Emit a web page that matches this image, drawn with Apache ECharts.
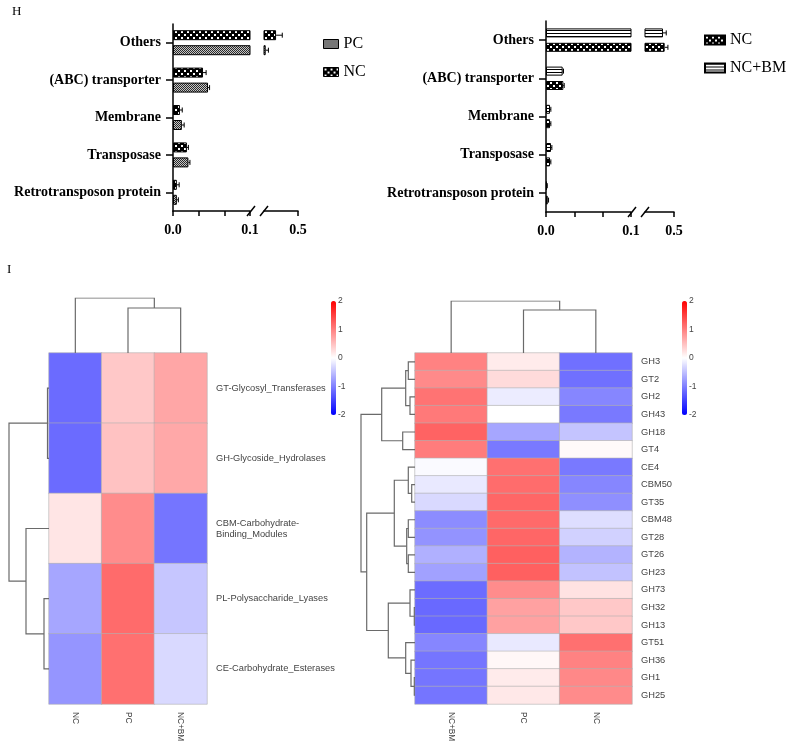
<!DOCTYPE html>
<html><head><meta charset="utf-8">
<script src="https://cdn.jsdelivr.net/npm/echarts@6/dist/echarts.min.js"></script>
<style>html,body{margin:0;padding:0;background:#fff}#c{width:789px;height:744px}</style>
</head><body><div id="c"></div>
<script>
// ================= DATA =================
const barCats = ['Others', '(ABC) transporter', 'Membrane', 'Transposase', 'Retrotransposon protein'];
// panel H left
const leftNC     = [0.242, 0.039, 0.009, 0.018, 0.005];
const leftNCErr  = [0.073, 0.004, 0.003, 0.002, 0.003];
const leftPC     = [0.120, 0.0455, 0.0115, 0.020, 0.005];
const leftPCErr  = [0.032, 0.002, 0.003, 0.002, 0.002];
// panel H right
const rightNCBM    = [0.348, 0.0196, 0.0047, 0.0059, 0.001];
const rightNCBMErr = [0.045, 0.001, 0.001, 0.001, 0.0005];
const rightNC      = [0.371, 0.0204, 0.0047, 0.0047, 0.002];
const rightNCErr   = [0.045, 0.001, 0.001, 0.001, 0.001];
// broken axis segments and ticks
const segLow = [0, 0.1];
const segHigh = [0.1, 0.5];
const lowTicks = [0, 0.1 / 3, 0.2 / 3, 0.1];
const lowLabels = [0, 0.1];
const highTicks = [0.5];
const highLabels = [0.5];

// panel I left heatmap
const hmLCols = ['NC', 'PC', 'NC+BM'];
const hmLRows = ['GT-Glycosyl_Transferases', 'GH-Glycoside_Hydrolases', 'CBM-Carbohydrate-\nBinding_Modules', 'PL-Polysaccharide_Lyases', 'CE-Carbohydrate_Esterases'];
const hmLVals = [
  [-1.16, 0.43, 0.70],
  [-1.16, 0.48, 0.68],
  [0.20, 0.90, -1.08],
  [-0.70, 1.16, -0.45],
  [-0.83, 1.12, -0.30]
];
// merges: [childA, childB, height]; ids >= n are earlier merges
const hmLRowTree = [[0, 1, 1.5], [3, 4, 5], [2, 6, 23], [5, 7, 40]];
const hmLColTree = [[1, 2, 45], [0, 3, 55]];

// panel I right heatmap
const hmRCols = ['NC+BM', 'PC', 'NC'];
const hmRRows = ['GH3', 'GT2', 'GH2', 'GH43', 'GH18', 'GT4', 'CE4', 'CBM50', 'GT35', 'CBM48', 'GT28', 'GT26', 'GH23', 'GH73', 'GH32', 'GH13', 'GT51', 'GH36', 'GH1', 'GH25'];
const hmRVals = [
  [0.98, 0.16, -1.12],
  [0.92, 0.28, -1.12],
  [1.10, -0.15, -0.95],
  [1.05, 0.00, -1.05],
  [1.22, -0.70, -0.46],
  [1.03, -1.05, 0.04],
  [-0.04, 1.12, -1.05],
  [-0.17, 1.15, -0.95],
  [-0.30, 1.20, -0.88],
  [-0.90, 1.17, -0.26],
  [-0.85, 1.20, -0.36],
  [-0.62, 1.25, -0.60],
  [-0.74, 1.25, -0.48],
  [-1.15, 0.90, 0.23],
  [-1.18, 0.74, 0.43],
  [-1.18, 0.74, 0.43],
  [-0.95, -0.17, 1.12],
  [-1.08, 0.06, 0.98],
  [-1.08, 0.16, 0.93],
  [-1.08, 0.18, 0.91]
];
const hmRRowTree = [
  [0, 1, 6.7], [2, 3, 5], [20, 21, 9.3], [4, 5, 12.3], [22, 23, 33.3],
  [7, 8, 3.3], [6, 25, 6.7], [9, 10, 6.7], [11, 12, 6.7], [27, 28, 8.3], [26, 29, 20.7],
  [14, 15, 0.7], [13, 31, 5], [18, 19, 0.7], [17, 33, 4], [16, 34, 9.3], [32, 35, 26.7],
  [30, 36, 48.3], [24, 37, 54]
];
const hmRColTree = [[1, 2, 43], [0, 3, 52]];
const colorbarTicks = [-2, -1, 0, 1, 2];

// ================= STYLE / LAYOUT =================
const SERIF = '"Liberation Serif","Times New Roman",serif';
const SANS = '"Liberation Sans",Arial,sans-serif';
const G = [
  {left: 173, top: 24, width: 77, height: 187},   // 0 H-left low
  {left: 264, top: 24, width: 34, height: 187},   // 1 H-left high
  {left: 546, top: 21, width: 85, height: 191},   // 2 H-right low
  {left: 645, top: 21, width: 29, height: 191},   // 3 H-right high
  {left: 49, top: 353, width: 158, height: 351},  // 4 heatmap L
  {left: 49, top: 298, width: 158, height: 55},   // 5 col dendro L
  {left: 9, top: 353, width: 40, height: 351},    // 6 row dendro L
  {left: 415, top: 353, width: 217, height: 351}, // 7 heatmap R
  {left: 415, top: 301, width: 217, height: 52},  // 8 col dendro R
  {left: 361, top: 353, width: 54, height: 351},  // 9 row dendro R
  {left: 331, top: 301, width: 5, height: 114},   // 10 colorbar L
  {left: 682, top: 301, width: 5, height: 114}    // 11 colorbar R
];

function pat(w, h, draw) {
  const c = document.createElement('canvas'); c.width = w; c.height = h;
  draw(c.getContext('2d'));
  return {image: c, repeat: 'repeat'};
}
const patNC = pat(6, 6, g => { g.fillStyle = '#000'; g.fillRect(0, 0, 6, 6); g.fillStyle = '#fff'; g.fillRect(1, 1, 2, 2); g.fillRect(4, 4, 2, 2); });
const patPC = pat(2, 2, g => { g.fillStyle = '#c4c4c4'; g.fillRect(0, 0, 2, 2); g.fillStyle = '#2a2a2a'; g.fillRect(0, 0, 1, 1); g.fillRect(1, 1, 1, 1); });
const patBM = pat(1, 3, g => { g.fillStyle = '#fff'; g.fillRect(0, 0, 1, 3); g.fillStyle = '#000'; g.fillRect(0, 0, 1, 1); });

const grids = G.map(g => Object.assign({outerBoundsMode: 'none', containLabel: false}, g));
const xAxes = [], yAxes = [];
const blackLine = {show: true, lineStyle: {color: '#000', width: 1.5}};
const tickFont = {fontFamily: SERIF, fontWeight: 'bold', fontSize: 14, color: '#000'};

function barAxes(gi, seg, ticks, labels, withY) {
  xAxes.push({type: 'value', gridIndex: gi, min: seg[0], max: seg[1],
    axisLine: blackLine, splitLine: {show: false},
    axisTick: {show: true, length: 5, customValues: ticks, lineStyle: {color: '#000', width: 1.5}},
    axisLabel: Object.assign({customValues: labels, margin: 12, formatter: v => Number(v).toFixed(1)}, tickFont)});
  yAxes.push({type: 'category', gridIndex: gi, data: barCats, inverse: true, show: withY,
    axisLine: blackLine,
    axisTick: {show: true, alignWithLabel: true, length: 7, lineStyle: {color: '#000', width: 1.5}},
    axisLabel: Object.assign({margin: 12}, tickFont)});
}
barAxes(0, segLow, lowTicks, lowLabels, true);
barAxes(1, segHigh, highTicks, highLabels, false);
barAxes(2, segLow, lowTicks, lowLabels, true);
barAxes(3, segHigh, highTicks, highLabels, false);

function hmAxes(gi, cols, rows) {
  xAxes.push({type: 'category', gridIndex: gi, data: cols, position: 'bottom',
    axisLine: {show: false}, axisTick: {show: false}, splitLine: {show: false},
    axisLabel: {rotate: -90, margin: 8, fontFamily: SANS, fontSize: 8.3, color: '#444'}});
  yAxes.push({type: 'category', gridIndex: gi, data: rows, inverse: true, position: 'right',
    axisLine: {show: false}, axisTick: {show: false}, splitLine: {show: false},
    axisLabel: {margin: 9, fontFamily: SANS, fontSize: 9.3, color: '#444', lineHeight: 11}});
}
function dendroAxes(gi, n, rootH, orient) {
  const leaf = {type: 'value', gridIndex: gi, min: -0.5, max: n - 0.5, show: false};
  const hgt = {type: 'value', gridIndex: gi, min: 0, max: rootH, show: false};
  if (orient === 'col') { xAxes.push(leaf); yAxes.push(hgt); }
  else { xAxes.push(Object.assign({}, hgt, {inverse: true})); yAxes.push(Object.assign({}, leaf, {inverse: true})); }
}
hmAxes(4, hmLCols, hmLRows);
dendroAxes(5, hmLCols.length, hmLColTree[hmLColTree.length - 1][2], 'col');
dendroAxes(6, hmLRows.length, hmLRowTree[hmLRowTree.length - 1][2], 'row');
hmAxes(7, hmRCols, hmRRows);
dendroAxes(8, hmRCols.length, hmRColTree[hmRColTree.length - 1][2], 'col');
dendroAxes(9, hmRRows.length, hmRRowTree[hmRRowTree.length - 1][2], 'row');
[10, 11].forEach(gi => {
  xAxes.push({type: 'value', gridIndex: gi, min: 0, max: 1, show: false});
  yAxes.push({type: 'value', gridIndex: gi, min: colorbarTicks[0], max: colorbarTicks[colorbarTicks.length - 1], interval: 1,
    position: 'right', axisLine: {show: false}, axisTick: {show: false}, splitLine: {show: false},
    axisLabel: {margin: 2, fontFamily: SANS, fontSize: 8.5, color: '#444'}});
});

// ================= SERIES =================
const series = [];
function addBars(name, vals, errs, giLow, giHigh, color, barW, gap, offset) {
  const common = {type: 'bar', name, barWidth: barW, barGap: gap, clip: true,
    itemStyle: {color, borderColor: '#000', borderWidth: 1}, emphasis: {disabled: true}};
  series.push(Object.assign({}, common, {xAxisIndex: giLow, yAxisIndex: giLow, data: vals.slice()}));
  series.push(Object.assign({}, common, {xAxisIndex: giHigh, yAxisIndex: giHigh, data: vals.map(v => v > segHigh[0] ? v : '-')}));
  [giLow, giHigh].forEach(gi => {
    const data = [];
    vals.forEach((v, i) => {
      const inHigh = v > segHigh[0];
      if ((gi === giHigh) === inHigh) data.push([v, i, v + errs[i]]);
    });
    series.push({type: 'custom', xAxisIndex: gi, yAxisIndex: gi, silent: true, z: 5, data,
      encode: {x: [0, 2], y: 1},
      renderItem(params, api) {
        const a = api.coord([api.value(0), api.value(1)]);
        const b = api.coord([api.value(2), api.value(1)]);
        const y = a[1] + offset;
        return {type: 'group', children: [
          {type: 'line', shape: {x1: a[0], y1: y, x2: b[0], y2: y}, style: {stroke: '#000', lineWidth: 1}},
          {type: 'line', shape: {x1: b[0], y1: y - 2.5, x2: b[0], y2: y + 2.5}, style: {stroke: '#000', lineWidth: 1}}
        ]};
      }});
  });
}
addBars('NC', leftNC, leftNCErr, 0, 1, patNC, 10, '50%', -7.5);
addBars('PC', leftPC, leftPCErr, 0, 1, patPC, 10, '50%', 7.5);
addBars('NC+BM', rightNCBM, rightNCBMErr, 2, 3, patBM, 9, '60%', -7.2);
addBars('NC', rightNC, rightNCErr, 2, 3, patNC, 9, '60%', 7.2);

function addHeatmap(gi, vals) {
  const data = [];
  vals.forEach((row, r) => row.forEach((v, c) => data.push([c, r, v])));
  series.push({type: 'heatmap', xAxisIndex: gi, yAxisIndex: gi, data,
    itemStyle: {borderColor: '#b0b0b0', borderWidth: 0.6}, emphasis: {disabled: true}});
  return series.length - 1;
}
function addDendro(gi, n, merges, orient) {
  const pos = [], hh = [], lines = [];
  for (let i = 0; i < n; i++) { pos.push(i); hh.push(0); }
  merges.forEach(([a, b, h]) => {
    lines.push([[pos[a], hh[a]], [pos[a], h], [pos[b], h], [pos[b], hh[b]]]);
    pos.push((pos[a] + pos[b]) / 2); hh.push(h);
  });
  const coords = orient === 'col' ? lines : lines.map(l => l.map(p => [p[1], p[0]]));
  series.push({type: 'lines', coordinateSystem: 'cartesian2d', xAxisIndex: gi, yAxisIndex: gi,
    polyline: true, silent: true, data: coords.map(c => ({coords: c})),
    lineStyle: {color: '#6a6a6a', width: 1.2, opacity: 1}});
}
const hmL = addHeatmap(4, hmLVals);
addDendro(5, hmLCols.length, hmLColTree, 'col');
addDendro(6, hmLRows.length, hmLRowTree, 'row');
const hmR = addHeatmap(7, hmRVals);
addDendro(8, hmRCols.length, hmRColTree, 'col');
addDendro(9, hmRRows.length, hmRRowTree, 'row');

const vmBase = {type: 'continuous', min: -2, max: 2, calculable: false, hoverLink: false, padding: 0,
  itemWidth: 5, itemHeight: 114, inRange: {color: ['#0000ff', '#ffffff', '#ff0000']}};

const chart = echarts.init(document.getElementById('c'));
chart.setOption({
  animation: false,
  backgroundColor: '#fff',
  grid: grids, xAxis: xAxes, yAxis: yAxes, series,
  visualMap: [
    Object.assign({}, vmBase, {seriesIndex: hmL, left: G[10].left, top: G[10].top}),
    Object.assign({}, vmBase, {seriesIndex: hmR, left: G[11].left, top: G[11].top})
  ],
  legend: [
    {data: ['PC', 'NC'], orient: 'vertical', left: 318, top: 31, icon: 'rect', itemWidth: 15, itemHeight: 9, itemGap: 12, itemStyle: {borderColor: '#000', borderWidth: 1},
     textStyle: {fontFamily: SERIF, fontSize: 16, color: '#000'}, selectedMode: false},
    {data: ['NC', 'NC+BM'], orient: 'vertical', left: 699, top: 27, icon: 'rect', itemWidth: 20, itemHeight: 9, itemGap: 12,
     textStyle: {fontFamily: SERIF, fontSize: 16, color: '#000'}, selectedMode: false}
  ]
});

// break marks on the broken axes, placed through the axes' own scales
const marks = [];
[[0, 1], [2, 3]].forEach(([lo, hi]) => {
  const y = G[lo].top + G[lo].height;
  const xa = chart.convertToPixel({xAxisIndex: lo}, segLow[1]);
  const xb = chart.convertToPixel({xAxisIndex: hi}, segHigh[0]);
  [xa + 1, xb].forEach(x => marks.push({type: 'line', shape: {x1: x - 4, y1: y + 5, x2: x + 4, y2: y - 5},
    style: {stroke: '#000', lineWidth: 1.5}, z: 10}));
});
marks.push({type: 'text', left: 12, top: 5, style: {text: 'H', font: '13px ' + SERIF, fill: '#000'}});
marks.push({type: 'text', left: 7, top: 263, style: {text: 'I', font: '13px ' + SERIF, fill: '#000'}});
chart.setOption({graphic: marks});
</script></body></html>
